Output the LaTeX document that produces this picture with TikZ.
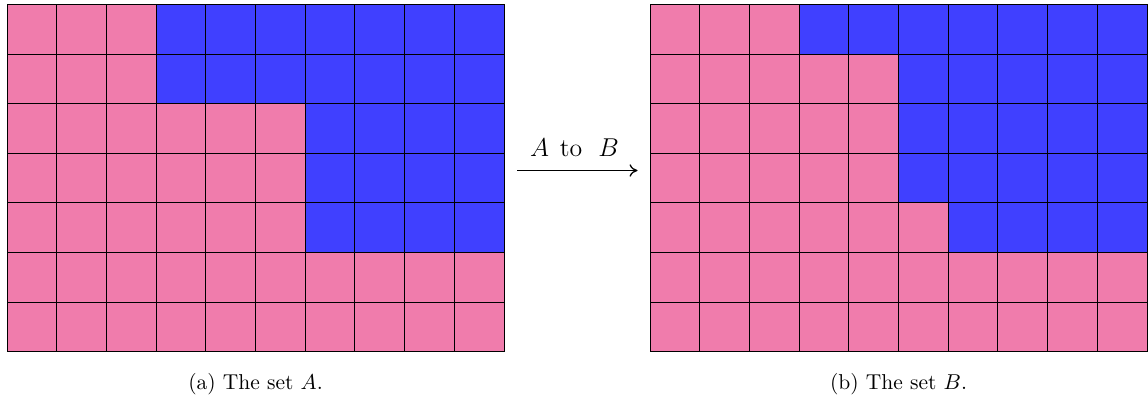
\documentclass[tikz,border=0pt]{standalone}
\usetikzlibrary{arrows.meta}
\definecolor{pinkc}{RGB}{240,124,172}
\definecolor{bluec}{RGB}{64,64,255}
\tikzset{
  gridline/.style={draw=black, line width=0.45pt},
  arrowline/.style={-{To[length=3.7pt,width=5.8pt]}, line width=0.6pt},
  caption/.style={anchor=base, inner sep=0pt}
}
\begin{document}
\begin{tikzpicture}[x=0.465pt,y=-0.465pt]
\useasboundingbox (0,0) rectangle (1148,403);
% set A
\begin{scope}[shift={(7,4.5)}]
\foreach \r/\n in {0/3,1/3,2/6,3/6,4/6,5/10,6/10} {
  \fill[pinkc] (0,\r*49.6) rectangle (\n*49.7,\r*49.6+49.6);
  \fill[bluec] (\n*49.7,\r*49.6) rectangle (497,\r*49.6+49.6);
}
\foreach \i in {0,...,10} \draw[gridline] (\i*49.7,0) -- (\i*49.7,347.2);
\foreach \j in {0,...,7} \draw[gridline] (0,\j*49.6) -- (497,\j*49.6);
\end{scope}
% set B
\begin{scope}[shift={(650,4.5)}]
\foreach \r/\n in {0/3,1/5,2/5,3/5,4/6,5/10,6/10} {
  \fill[pinkc] (0,\r*49.6) rectangle (\n*49.7,\r*49.6+49.6);
  \fill[bluec] (\n*49.7,\r*49.6) rectangle (497,\r*49.6+49.6);
}
\foreach \i in {0,...,10} \draw[gridline] (\i*49.7,0) -- (\i*49.7,347.2);
\foreach \j in {0,...,7} \draw[gridline] (0,\j*49.6) -- (497,\j*49.6);
\end{scope}
% arrow
\coordinate (arrS) at (517,170.5);
\coordinate (arrE) at (637.5,170.5);
\draw[arrowline] (arrS) -- (arrE);
\node[caption] (lab) at (574.5,157) {\large $A$\hspace{5pt}to\hspace{7.5pt}$B$};
% captions
\node[caption] (capa) at (255.5,390) {(a) The set $A$.};
\node[caption] (capb) at (898.5,390) {(b) The set $B$.};
\end{tikzpicture}
\end{document}
